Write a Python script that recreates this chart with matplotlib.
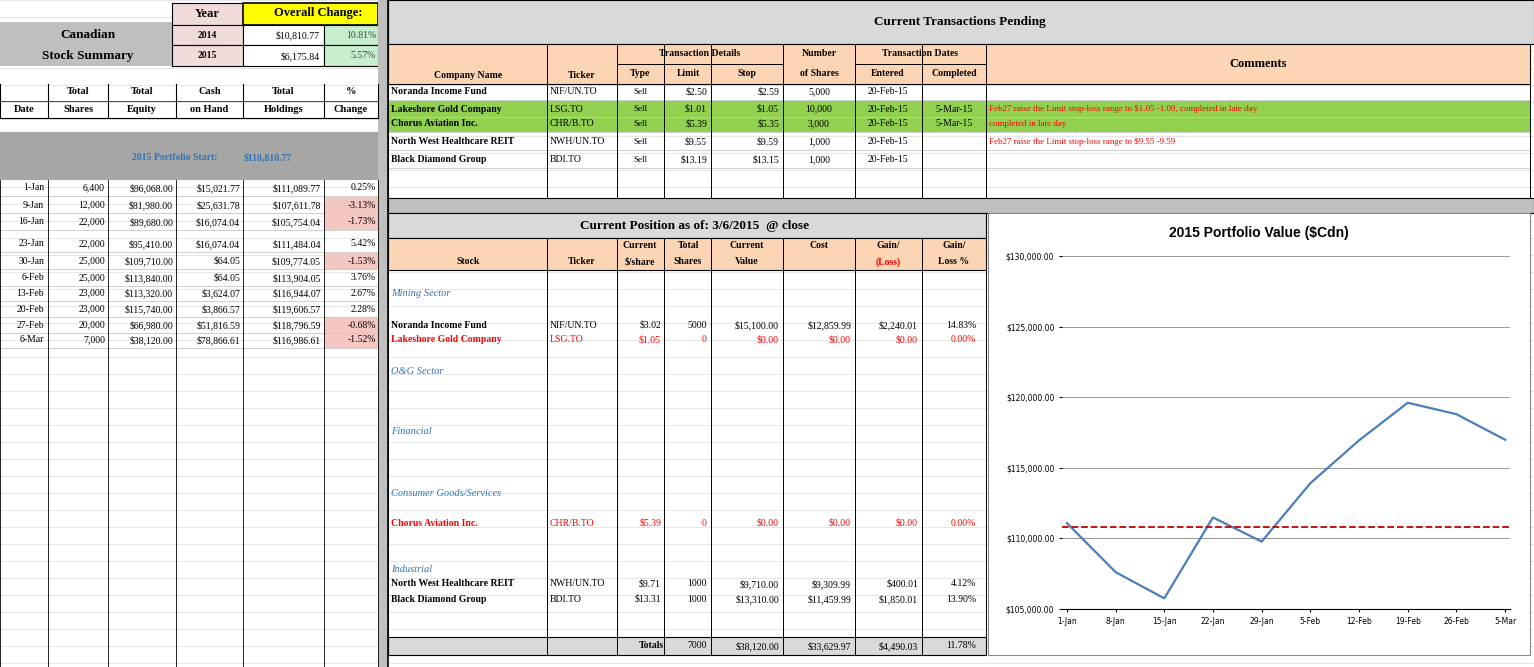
import matplotlib
matplotlib.use("Agg")
import matplotlib.pyplot as plt
from matplotlib.patches import Rectangle
import matplotlib.ticker as mt

# ---------------- data ----------------
dates = ["1-Jan","9-Jan","16-Jan","23-Jan","30-Jan","6-Feb","13-Feb","20-Feb","27-Feb","6-Mar"]
total_shares = ["6,400","12,000","22,000","22,000","25,000","25,000","23,000","23,000","20,000","7,000"]
total_equity = ["$96,068.00","$81,980.00","$89,680.00","$95,410.00","$109,710.00","$113,840.00","$113,320.00","$115,740.00","$66,980.00","$38,120.00"]
cash = ["$15,021.77","$25,631.78","$16,074.04","$16,074.04","$64.05","$64.05","$3,624.07","$3,866.57","$51,816.59","$78,866.61"]
holdings = [111089.77,107611.78,105754.04,111484.04,109774.05,113904.05,116944.07,119606.57,118796.59,116986.61]
pct_change = ["0.25%","-3.13%","-1.73%","5.42%","-1.53%","3.76%","2.67%","2.28%","-0.68%","-1.52%"]
start_value = 110810.77
chart_x = ["1-Jan","8-Jan","15-Jan","22-Jan","29-Jan","5-Feb","12-Feb","19-Feb","26-Feb","5-Mar"]

tx_company = ["Noranda Income Fund","Lakeshore Gold Company","Chorus Aviation Inc.","North West Healthcare REIT","Black Diamond Group"]
tx_ticker = ["NIF/UN.TO","LSG.TO","CHR/B.TO","NWH/UN.TO","BDI.TO"]
tx_type = ["Sell"]*5
tx_limit = ["$2.50","$1.01","$5.39","$9.55","$13.19"]
tx_stop = ["$2.59","$1.05","$5.35","$9.59","$13.15"]
tx_shares = ["5,000","10,000","3,000","1,000","1,000"]
tx_entered = ["20-Feb-15"]*5
tx_completed = ["","5-Mar-15","5-Mar-15","",""]
tx_comments = ["","Feb27 raise the Limit stop-loss range to $1.05 -1.09, completed in late day",
               "completed in late day","Feb27 raise the Limit stop-loss range to $9.55 -9.59",""]

# ---------------- figure ----------------
fig = plt.figure(figsize=(15.34, 6.67), dpi=100)
ax = fig.add_axes([0, 0, 1, 1])
ax.set_xlim(0, 1534); ax.set_ylim(667, 0); ax.axis("off")
F = "Liberation Serif"
GRID = "#c8c8c8"

def rect(x0, y0, x1, y1, fc, ec="none", lw=0.8, z=1):
    ax.add_patch(Rectangle((x0, y0), x1 - x0, y1 - y0, fc=fc, ec=ec, lw=lw, zorder=z))

def t(x, y, s, ha="center", size=7, color="black", bold=False, italic=False, z=5):
    ax.text(x, y, s, ha=ha, va="center", fontsize=size, color=color, family=F,
            fontweight="bold" if bold else "normal", style="italic" if italic else "normal", zorder=z)

# background grid (spreadsheet)
for y in range(0, 667, 17):
    ax.plot([0, 1534], [y, y], color="#e2e2e2", lw=0.6, zorder=0)

# ---------------- left block ----------------
lcols = [0, 48, 108, 176, 243, 324, 378]
rect(0, 22, 172, 66, "#bfbfbf")
t(88, 35, "Canadian", size=9.5, bold=True); t(88, 56, "Stock Summary", size=9.5, bold=True)
rect(172, 3, 243, 25, "#f2dcdb", "black"); t(207, 14, "Year", size=9, bold=True)
rect(172, 25, 243, 45, "#f2dcdb", "black"); t(207, 35, "2014", bold=True)
rect(172, 45, 243, 66, "#f2dcdb", "black"); t(207, 56, "2015", bold=True)
rect(243, 3, 378, 25, "#ffff00", "black", lw=1.2); t(318, 13, "Overall Change:", size=9, bold=True)
rect(243, 25, 324, 45, "white", "black"); t(320, 35, "$10,810.77", ha="right")
rect(243, 45, 324, 66, "white", "black"); t(320, 56, "$6,175.84", ha="right")
rect(324, 25, 378, 45, "#c6efce", "black"); t(376, 35, "10.81%", ha="right", color="#444")
rect(324, 45, 378, 66, "#c6efce", "black"); t(376, 56, "5.57%", ha="right", color="#444")
hdr = [("Date", None), ("Total", "Shares"), ("Total", "Equity"), ("Cash", "on Hand"), ("Total", "Holdings"), ("%", "Change")]
for i, (a, b) in enumerate(hdr):
    cx = (lcols[i] + lcols[i + 1]) / 2
    if b is None:
        t(cx, 109, a, bold=True, size=7.5)
    else:
        t(cx, 92, a, bold=True, size=7.5); t(cx, 109, b, bold=True, size=7.5)
for x in lcols:
    ax.plot([x, x], [84, 118], color="black", lw=0.8, zorder=3)
    ax.plot([x, x], [180, 667], color="black", lw=0.6, zorder=3)
ax.plot([0, 378], [118, 118], color="black", lw=0.8, zorder=3)
ax.plot([0, 378], [101, 101], color="black", lw=0.5, zorder=3)
rect(0, 132, 378, 180, "#a6a6a6")
t(175, 158, "2015 Portfolio Start:", color="#2e75b6", bold=True)
t(268, 158, "$110,810.77", color="#2e75b6", bold=True)
rows_y = [188, 205, 222, 244, 261, 278, 293, 309, 325, 340]
for i, y in enumerate(rows_y):
    if pct_change[i].startswith("-"):
        rect(324, y - 8, 378, y + 8, "#f4c7c3")
    t(44, y, dates[i], ha="right")
    t(105, y, total_shares[i], ha="right")
    t(173, y, total_equity[i], ha="right")
    t(240, y, cash[i], ha="right")
    t(321, y, f"${holdings[i]:,.2f}", ha="right")
    t(376, y, pct_change[i], ha="right")
    ax.plot([0, 378], [y + 8, y + 8], color=GRID, lw=0.6, zorder=2)

# vertical divider
rect(378, 0, 388, 667, "#bfbfbf"); ax.plot([388, 388], [0, 667], color="black", lw=1.2, zorder=4)

# ---------------- transactions ----------------
rect(388, 0, 1534, 44, "#d9d9d9", "black")
t(960, 22, "Current Transactions Pending", size=9.5, bold=True)
rect(388, 44, 1530, 84, "#fcd5b4", "black")
tcols = [388, 547, 617, 664, 711, 783, 855, 922, 986, 1530]
for x in tcols:
    ax.plot([x, x], [44, 198], color="black", lw=0.7, zorder=3)
ax.plot([617, 783], [64, 64], color="black", lw=0.7, zorder=3)
ax.plot([855, 986], [64, 64], color="black", lw=0.7, zorder=3)
t(468, 76, "Company Name", bold=True); t(582, 76, "Ticker", bold=True)
t(700, 54, "Transaction Details", bold=True)
t(640, 74, "Type", bold=True); t(688, 74, "Limit", bold=True); t(747, 74, "Stop", bold=True)
t(819, 54, "Number", bold=True); t(819, 74, "of Shares", bold=True)
t(920, 54, "Transaction Dates", bold=True)
t(888, 74, "Entered", bold=True); t(954, 74, "Completed", bold=True)
t(1258, 64, "Comments", size=9, bold=True)
tx_y = [92, 109, 124, 142, 160]
rect(388, 101, 1530, 132, "#92d050")
for i, y in enumerate(tx_y):
    t(391, y, tx_company[i], ha="left", bold=True)
    t(550, y, tx_ticker[i], ha="left")
    t(640, y, tx_type[i], size=6.5)
    t(707, y, tx_limit[i], ha="right"); t(779, y, tx_stop[i], ha="right")
    t(819, y, tx_shares[i]); t(888, y, tx_entered[i]); t(954, y, tx_completed[i])
    t(989, y, tx_comments[i], ha="left", color="red", size=6.5)
    ax.plot([388, 1530], [y + 8, y + 8], color=GRID, lw=0.6, zorder=2)
rect(388, 198, 1534, 213, "#bfbfbf", "black")

# ---------------- current position ----------------
rect(388, 213, 986, 238, "#d9d9d9", "black")
t(695, 226, "Current Position as of: 3/6/2015  @ close", size=9.5, bold=True)
rect(388, 238, 986, 270, "#fcd5b4", "black")
pcols = [388, 547, 617, 664, 711, 783, 855, 922, 986]
for x in pcols:
    ax.plot([x, x], [238, 655], color="black", lw=0.7, zorder=3)
t(468, 262, "Stock", bold=True); t(582, 262, "Ticker", bold=True)
t(640, 246, "Current", bold=True); t(640, 262, "$/share", bold=True)
t(688, 246, "Total", bold=True); t(688, 262, "Shares", bold=True)
t(747, 246, "Current", bold=True); t(747, 262, "Value", bold=True)
t(819, 246, "Cost", bold=True)
t(888, 246, "Gain/", bold=True); t(888, 262, "(Loss)", bold=True, color="red")
t(954, 246, "Gain/", bold=True); t(954, 262, "Loss %", bold=True)
for y, s in [(294, "Mining Sector"), (371, "O&G Sector"), (432, "Financial"), (493, "Consumer Goods/Services"), (569, "Industrial")]:
    t(391, y, s, ha="left", color="#2e75b6", italic=True, size=7.5)
pos = [(325, "Noranda Income Fund", "NIF/UN.TO", "$3.02", "5000", "$15,100.00", "$12,859.99", "$2,240.01", "14.83%", "black"),
       (340, "Lakeshore Gold Company", "LSG.TO", "$1.05", "0", "$0.00", "$0.00", "$0.00", "0.00%", "red"),
       (523, "Chorus Aviation Inc.", "CHR/B.TO", "$5.39", "0", "$0.00", "$0.00", "$0.00", "0.00%", "red"),
       (584, "North West Healthcare REIT", "NWH/UN.TO", "$9.71", "1000", "$9,710.00", "$9,309.99", "$400.01", "4.12%", "black"),
       (599, "Black Diamond Group", "BDI.TO", "$13.31", "1000", "$13,310.00", "$11,459.99", "$1,850.01", "13.90%", "black")]
for y, n, tk, p, sh, v, c, g, pc, col in pos:
    t(391, y, n, ha="left", bold=True, color=col); t(550, y, tk, ha="left", color=col)
    t(661, y, p, ha="right", color=col); t(707, y, sh, ha="right", color=col)
    t(779, y, v, ha="right", color=col); t(851, y, c, ha="right", color=col)
    t(918, y, g, ha="right", color=col); t(976, y, pc, ha="right", color=col)
rect(388, 637, 986, 655, "#d9d9d9", "black")
t(664, 646, "Totals", ha="right", bold=True); t(707, 646, "7000", ha="right")
t(779, 646, "$38,120.00", ha="right"); t(851, 646, "$33,629.97", ha="right")
t(918, 646, "$4,490.03", ha="right"); t(976, 646, "11.78%", ha="right")

# ---------------- chart ----------------
rect(988, 213, 1530, 655, "white", "#888", z=6)
cax = fig.add_axes([1062 / 1534, 1 - 609 / 667, (1510 - 1062) / 1534, (609 - 256) / 667])
cax.set_zorder(10)
xs = list(range(len(holdings)))
cax.plot(xs, holdings, color="#4a7ebb", lw=1.6)
cax.axhline(start_value, color="#c00000", ls="--", lw=1.3)
cax.set_ylim(105000, 130000); cax.set_xlim(-0.1, 9.1)
cax.set_yticks(range(105000, 130001, 5000))
cax.yaxis.set_major_formatter(mt.FuncFormatter(lambda v, p: f"${v:,.2f}"))
cax.set_xticks(xs); cax.set_xticklabels(chart_x)
cax.tick_params(labelsize=5.5, length=2)
cax.grid(axis="y", color="#888", lw=0.6)
for s in ["top", "right", "left"]:
    cax.spines[s].set_visible(False)
cax.patch.set_alpha(0)
fig.text(1259 / 1534, 1 - 233 / 667, "2015 Portfolio Value ($Cdn)", ha="center", va="center",
         fontsize=10, fontweight="bold", family="Liberation Sans", zorder=11)

fig.savefig("out.png", dpi=100)
